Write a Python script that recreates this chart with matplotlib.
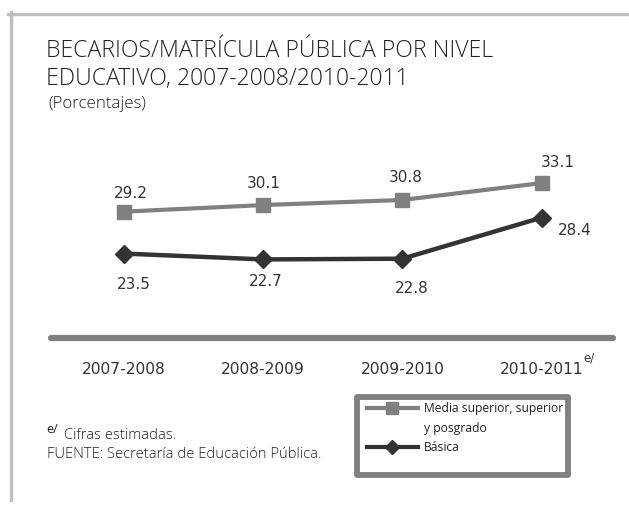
import matplotlib
matplotlib.use("Agg")
import matplotlib.pyplot as plt
from matplotlib.lines import Line2D
from matplotlib.patches import Rectangle

# data
periodos = ["2007-2008", "2008-2009", "2009-2010", "2010-2011"]
media_superior = [29.2, 30.1, 30.8, 33.1]
basica = [23.5, 22.7, 22.8, 28.4]

# label offsets in pixels (dx, dy)
off_media = [(7, 18), (1, 22), (3, 22), (16, 21)]
off_basica = [(10, -31), (3, -22), (9, -30), (33, -13)]

GRIS = "#808080"
NEGRO = "#333333"
TXT = "#222222"

W, H = 629, 505
fig = plt.figure(figsize=(W / 100, H / 100), dpi=100)
fig.patch.set_facecolor("white")

# outer frame (top + left light gray lines)
fig.add_artist(Line2D([8 / W, 1.0], [1 - 13.5 / H, 1 - 13.5 / H], color="#c0c0c0", lw=2.4,
                      transform=fig.transFigure))
fig.add_artist(Line2D([10.5 / W, 10.5 / W], [1 - 12 / H, 1 - 500 / H], color="#c0c0c0", lw=2.4,
                      transform=fig.transFigure))

# titles
tfont = dict(family="Open Sans", fontweight="light", color=TXT, va="baseline")
fig.text(46 / W, 1 - 57 / H, "BECARIOS/MATRÍCULA PÚBLICA POR NIVEL", fontsize=16.6, **tfont)
fig.text(46 / W, 1 - 85 / H, "EDUCATIVO, 2007-2008/2010-2011", fontsize=16.6, **tfont)
fig.text(48 / W, 1 - 108 / H, "(Porcentajes)", fontsize=12.2, **tfont)

# plot area
ax = fig.add_axes([51 / W, 1 - 338 / H, (613 - 51) / W, (338 - 150) / H])
x = list(range(len(periodos)))
ax.plot(x, media_superior, color=GRIS, lw=3, marker="s", ms=10, mfc=GRIS, mec=GRIS,
        solid_capstyle="round", zorder=3)
ax.plot(x, basica, color=NEGRO, lw=3.2, marker="D", ms=9, mfc=NEGRO, mec=NEGRO,
        solid_capstyle="round", zorder=3)

for xi, v, (dx, dy) in zip(x, media_superior, off_media):
    ax.annotate(f"{v:.1f}", (xi, v), xytext=(dx, dy), textcoords="offset pixels",
                ha="center", va="center", fontsize=11, color=NEGRO)
for xi, v, (dx, dy) in zip(x, basica, off_basica):
    ax.annotate(f"{v:.1f}", (xi, v), xytext=(dx, dy), textcoords="offset pixels",
                ha="center", va="center", fontsize=11, color=NEGRO)

ax.set_xlim(-0.52, 3.51)
ax.set_ylim(12.0, 37.6)
ax.set_xticks(x)
ax.set_xticklabels(periodos, fontsize=11.2, color=NEGRO)
ax.tick_params(axis="x", length=0, pad=17)
ax.set_yticks([])
for s in ["top", "right", "left"]:
    ax.spines[s].set_visible(False)
ax.spines["bottom"].set_color(GRIS)
ax.spines["bottom"].set_linewidth(4.5)
ax.spines["bottom"].set_capstyle("round")
ax.patch.set_alpha(0)

# superscript e/ on last period
ax.annotate("e/", (3, 12.0), xytext=(47, -20), textcoords="offset pixels",
            ha="center", va="center", fontsize=8.5, color=NEGRO)

# footnotes
fig.text(46 / W, 1 - 433 / H, "e/", fontsize=9, family="Open Sans", color=TXT, va="baseline")
fig.text(64 / W, 1 - 439 / H, "Cifras estimadas.", fontsize=10.6, family="Open Sans",
         fontweight="light", color=TXT, va="baseline")
fig.text(47 / W, 1 - 458 / H, "FUENTE: Secretaría de Educación Pública.", fontsize=10.6,
         family="Open Sans", fontweight="light", color=TXT, va="baseline")

# legend box
fig.add_artist(Rectangle((357 / W, 1 - 475 / H), (568 - 357) / W, (475 - 397) / H,
                         transform=fig.transFigure, fill=False, ec=GRIS, lw=4.2,
                         joinstyle="round"))
h1 = Line2D([], [], color=GRIS, lw=3, marker="s", ms=8, mfc=GRIS, mec=GRIS)
h_blank = Line2D([], [], color="none")
h2 = Line2D([], [], color=NEGRO, lw=3, marker="D", ms=7, mfc=NEGRO, mec=NEGRO)
leg = fig.legend([h1, h_blank, h2], ["Media superior, superior", "y posgrado", "Básica"],
                 loc="upper left", bbox_to_anchor=(367 / W, 1 - 402 / H),
                 bbox_transform=fig.transFigure, frameon=False,
                 prop={"family": "Open Sans", "size": 8.7},
                 handlelength=4.2, handletextpad=0.5, labelspacing=0.55,
                 borderpad=0, borderaxespad=0)
for t in leg.get_texts():
    t.set_color(TXT)

fig.savefig("out.png", dpi=100)
